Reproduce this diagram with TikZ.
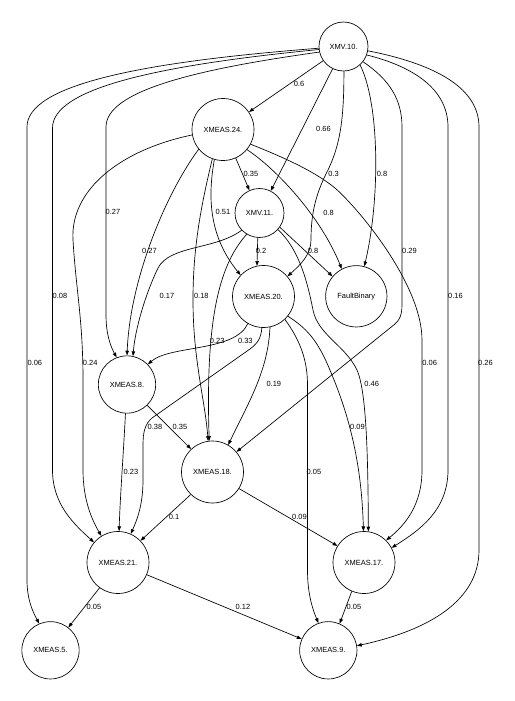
\documentclass[tikz,border=0pt]{standalone}
\usepackage{fontspec}
\setmainfont{Liberation Sans}
\usetikzlibrary{arrows.meta}
\begin{document}
\begin{tikzpicture}[x=0.75pt,y=-0.75pt,
  nd/.style={circle,draw,line width=0.5pt,inner sep=0pt,font=\fontsize{5.6}{6.7}\selectfont},
  big/.style={nd,minimum size=46.5pt},
  mid/.style={nd,minimum size=43pt},
  sml/.style={nd,minimum size=36.75pt},
  e/.style={draw,line width=0.5pt,-{Triangle[length=3.6pt,width=2.6pt]}},
  lbl/.style={inner sep=0pt,font=\fontsize{5.6}{6.7}\selectfont}]
\useasboundingbox (0,0) rectangle (515,701);
\fill[white] (0,0) rectangle (515,701);
% nodes
\node[sml] (A) at (343.5,46.5) {XMV.10.};
\node[big] (B) at (223,129.5) {XMEAS.24.};
\node[sml] (C) at (259.5,213) {XMV.11.};
\node[big] (D) at (263.5,296.5) {XMEAS.20.};
\node[nd,minimum size=46pt] (F) at (356.3,296.3) {FaultBinary};
\node[mid] (E8) at (127,384.5) {XMEAS.8.};
\node[big] (E18) at (212.5,472) {XMEAS.18.};
\node[big] (E21) at (118,562.5) {XMEAS.21.};
\node[big] (E17) at (364,562.5) {XMEAS.17.};
\node[mid] (E5) at (50.5,650.3) {XMEAS.5.};
\node[mid] (E9) at (328.3,650.3) {XMEAS.9.};
% edges from XMV.10
\draw[e] (A.184) .. controls (140,62) and (27,85) .. (27,127) -- (27,580) .. controls (27,600) and (33,612) .. (E5.113);
\draw[e] (A.187) .. controls (160,65) and (52.5,88) .. (52.5,128) -- (52.5,470) .. controls (52.5,505) and (75,525) .. (E21.140);
\draw[e] (A.193) .. controls (190,70) and (106,92) .. (106,127) -- (106,315) .. controls (106,335) and (111,347) .. (E8.111);
\draw[e] (A.350) .. controls (440,65) and (479,90) .. (479,127) -- (479,550) .. controls (479,600) and (430,630) .. (E9.9);
\draw[e] (A.340) .. controls (415,67) and (448,90) .. (448,127) -- (448,470) .. controls (448,510) and (420,530) .. (E17.28);
\draw[e] (A.322) .. controls (390,80) and (402,100) .. (402,127) -- (402,305) .. controls (402,318) and (398,322) .. (390,328) -- (E18.40);
\draw[e] (A.312) .. controls (380,105) and (380,200) .. (F.75);
\draw[e] (A.271) .. controls (344,120) and (340,145) .. (328,170) .. controls (315,195) and (311,215) .. (311,240) .. controls (311,255) and (300,265) .. (D.40);
\draw[e] (A.244) -- (C.63);
\draw[e] (A.215) -- (B.34);
% edges from XMEAS.24
\draw[e] (B.294) -- (C.114);
\draw[e] (B.219) .. controls (165,195) and (130,280) .. (E8.90);
\draw[e] (B.190) .. controls (120,150) and (70,190) .. (73,240) .. controls (76,290) and (83,320) .. (83,380) -- (83,470) .. controls (83,500) and (92,520) .. (E21.122);
\draw[e] (B.250) .. controls (200,210) and (193,250) .. (193,300) .. controls (193,360) and (205,400) .. (E18.98);
\draw[e] (B.254) .. controls (208,195) and (208,235) .. (D.137);
\draw[e] (B.320) .. controls (275,168) and (320,215) .. (F.118);
\draw[e] (B.332) .. controls (290,160) and (315,172) .. (335,188) .. controls (360,210) and (422,285) .. (422,340) -- (422,470) .. controls (422,505) and (405,525) .. (E17.45);
% edges from XMV.11
\draw[e] (C.224) .. controls (215,250) and (170,245) .. (158,268) .. controls (145,295) and (135,330) .. (E8.78);
\draw[e] (C.239) .. controls (222,262) and (205,310) .. (E18.96);
\draw[e] (C.266) -- (D.102);
\draw[e] (C.325) -- (F.140);
\draw[e] (C.318) .. controls (300,250) and (308,285) .. (313,310) .. controls (318,335) and (345,345) .. (357,370) .. controls (366,390) and (368,450) .. (E17.82);
% edges from XMEAS.20
\draw[e] (D.240) .. controls (235,352) and (170,345) .. (E8.44);
\draw[e] (D.267) .. controls (261,338) and (258,343) .. (250,349) -- (152,418) .. controls (145,424) and (143,432) .. (143,445) -- (143,480) .. controls (143,505) and (137,520) .. (E21.66);
\draw[e] (D.282) .. controls (268,370) and (250,400) .. (E18.60);
\draw[e] (D.313) .. controls (300,340) and (307.5,360) .. (307.5,385) -- (307.5,570) .. controls (307.5,595) and (313,610) .. (E9.110);
\draw[e] (D.321) .. controls (310,330) and (320,345) .. (332,375) .. controls (355,430) and (362,480) .. (E17.91);
% lower edges
\draw[e] (E8.314) -- (E18.133);
\draw[e] (E8.267) .. controls (123,460) and (120,500) .. (E21.88);
\draw[e] (E18.226) -- (E21.44);
\draw[e] (E18.328) -- (E17.148);
\draw[e] (E21.234) -- (E5.52);
\draw[e] (E21.337) -- (E9.157);
\draw[e] (E17.247) -- (E9.67);
% labels
\node[lbl] (l1) at (299,84) {0.6};
\node[lbl] (l2) at (323.5,128.5) {0.66};
\node[lbl] (l3) at (333.5,174) {0.3};
\node[lbl] (l4) at (382,174) {0.8};
\node[lbl] (l5) at (409.5,251) {0.29};
\node[lbl] (l6) at (455.5,296) {0.16};
\node[lbl] (l7) at (485.5,363) {0.26};
\node[lbl] (l8) at (113,212) {0.27};
\node[lbl] (l9) at (60,296) {0.08};
\node[lbl] (l10) at (34.8,363) {0.06};
\node[lbl] (l11) at (251,174) {0.35};
\node[lbl] (l12) at (223,212) {0.51};
\node[lbl] (l13) at (328.5,212.5) {0.8};
\node[lbl] (l14) at (149.5,251) {0.27};
\node[lbl] (l15) at (90.2,363) {0.24};
\node[lbl] (l16) at (201.3,296) {0.18};
\node[lbl] (l17) at (429.7,363) {0.06};
\node[lbl] (l18) at (261,251) {0.2};
\node[lbl] (l19) at (313,251) {0.8};
\node[lbl] (l20) at (167,296) {0.17};
\node[lbl] (l21) at (217.2,341) {0.23};
\node[lbl] (l22) at (371.7,384) {0.46};
\node[lbl] (l23) at (245.3,341) {0.33};
\node[lbl] (l24) at (273.8,384) {0.19};
\node[lbl] (l25) at (155,426.7) {0.38};
\node[lbl] (l26) at (357.5,426.7) {0.09};
\node[lbl] (l27) at (314,472) {0.05};
\node[lbl] (l28) at (180,426.7) {0.35};
\node[lbl] (l29) at (131,472) {0.23};
\node[lbl] (l30) at (174,517) {0.1};
\node[lbl] (l31) at (299.5,517) {0.09};
\node[lbl] (l32) at (94,607) {0.05};
\node[lbl] (l33) at (243,607) {0.12};
\node[lbl] (l34) at (354,607) {0.05};
\end{tikzpicture}
\end{document}
